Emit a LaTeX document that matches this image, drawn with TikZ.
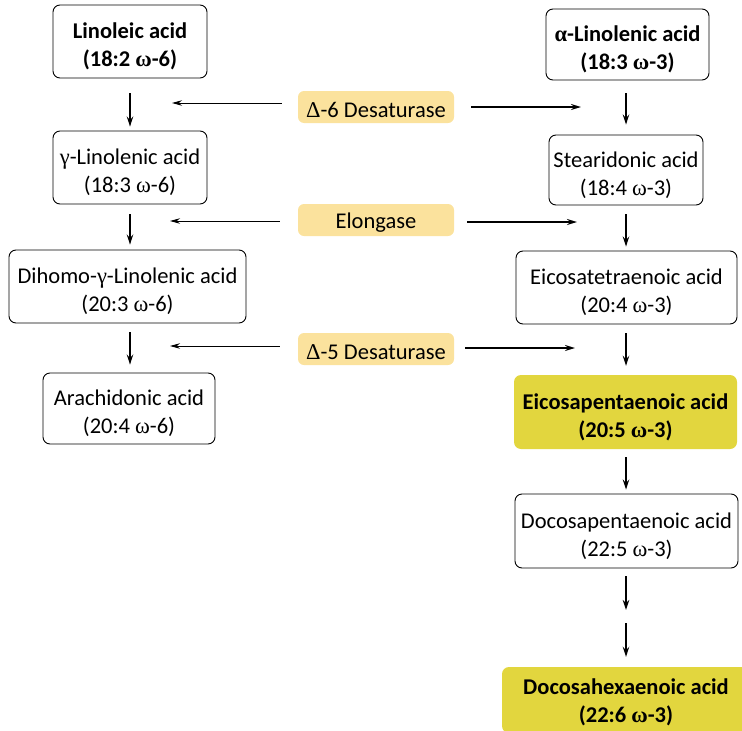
\documentclass[tikz,border=0pt]{standalone}
\usepackage{fontspec}
\setmainfont{Carlito}
\newfontfamily\grfont{Liberation Serif}
\usetikzlibrary{arrows.meta}
\newcommand{\gom}{{\grfont ω}}
\newcommand{\ggam}{{\grfont γ}}
\newcommand{\galp}{{\grfont α}}
\newcommand{\gDel}{{\grfont Δ}}
\newcommand{\acidstrut}{\rule{0pt}{26pt}}
\newcommand{\lowstrut}{\rule{0pt}{20pt}}
\newcommand{\enzstrut}{\rule{0pt}{21.5pt}}
\definecolor{enzfill}{RGB}{251,226,157}
\definecolor{keyfill}{RGB}{226,214,62}
\begin{document}
\begin{tikzpicture}[x=1pt,y=-1pt,
  acid/.style={draw=black, line width=0.9pt, rounded corners=7pt, align=center,
    inner sep=0pt, font=\fontsize{22.5}{28}\selectfont},
  keyacid/.style={fill=keyfill, rounded corners=7pt, align=center,
    inner sep=0pt, font=\fontsize{22.5}{28}\selectfont\bfseries},
  enz/.style={fill=enzfill, rounded corners=6pt, align=center, inner sep=0pt,
    minimum width=156pt, minimum height=32pt, font=\fontsize{22.5}{26}\selectfont},
  varr/.style={line width=1.5pt, -{Stealth[length=10pt,width=6.5pt]}},
  rarr/.style={line width=1.6pt, -{Stealth[length=10pt,width=6pt]}},
  larr/.style={line width=0.8pt, -{Stealth[length=10pt,width=5.5pt]}}]
\useasboundingbox (0,0) rectangle (742,731);

% omega-6 column
\node[acid, minimum width=154pt, minimum height=73pt, font=\fontsize{22.5}{28}\selectfont\bfseries] (lin) at (130,41.5) {\acidstrut Linoleic acid\\(18:2 \gom-6)};
\node[acid, minimum width=154pt, minimum height=73pt] (gla) at (130,167.5) {\acidstrut\ggam-Linolenic acid\\(18:3 \gom-6)};
\node[acid, minimum width=237pt, minimum height=73pt] (dgla) at (127.5,286.5) {\acidstrut Dihomo-\ggam-Linolenic acid\\(20:3 \gom-6)};
\node[acid, minimum width=172pt, minimum height=71pt] (ara) at (129,408.5) {\acidstrut Arachidonic acid\\(20:4 \gom-6)};

% omega-3 column
\node[acid, minimum width=163pt, minimum height=71pt, font=\fontsize{22.5}{28}\selectfont\bfseries] (ala) at (627.5,44.5) {\acidstrut\galp-Linolenic acid\\(18:3 \gom-3)};
\node[acid, minimum width=154pt, minimum height=70pt] (sda) at (626,170) {\acidstrut Stearidonic acid\\(18:4 \gom-3)};
\node[acid, minimum width=221pt, minimum height=73pt] (eta) at (626.5,287.5) {\acidstrut Eicosatetraenoic acid\\(20:4 \gom-3)};
\node[keyacid, minimum width=223pt, minimum height=74pt] (epa) at (625.5,412) {\acidstrut Eicosapentaenoic acid\\(20:5 \gom-3)};
\node[acid, minimum width=223pt, minimum height=74pt] (dpa) at (626.5,531) {\acidstrut Docosapentaenoic acid\\(22:5 \gom-3)};
\node[keyacid, minimum width=248pt, minimum height=66pt] (dha) at (626,700) {\lowstrut Docosahexaenoic acid\\(22:6 \gom-3)};
\coordinate (mid) at (626,616.5);

% enzymes
\node[enz] (e1) at (376,107) {\enzstrut\gDel-6 Desaturase};
\node[enz] (e2) at (376,220) {\enzstrut Elongase};
\node[enz] (e3) at (376,349) {\enzstrut\gDel-5 Desaturase};

% vertical arrows, omega-6
\draw[varr, shorten <=15pt, shorten >=4pt] (lin) -- (gla);
\draw[varr, shorten <=10pt, shorten >=5pt] (gla) -- (gla |- dgla.north);
\draw[varr, shorten <=9pt, shorten >=8pt] (gla |- dgla.south) -- (gla |- ara.north);

% vertical arrows, omega-3
\draw[varr, shorten <=13pt, shorten >=10pt] (sda |- ala.south) -- (sda);
\draw[varr, shorten <=9pt, shorten >=4pt] (sda) -- (sda |- eta.north);
\draw[varr, shorten <=9pt, shorten >=9pt] (sda |- eta.south) -- (sda |- epa.north);
\draw[varr, shorten <=8pt, shorten >=4pt] (sda |- epa.south) -- (sda |- dpa.north);
\draw[varr, shorten <=8pt, shorten >=6.5pt] (sda |- dpa.south) -- (mid);
\draw[varr, shorten <=6.5pt, shorten >=10pt] (mid) -- (sda |- dha.north);

% enzyme arrows
\coordinate (l1) at (172,103);
\coordinate (r1) at (581,107);
\coordinate (l2) at (170,221);
\coordinate (r2) at (577,222);
\coordinate (l3) at (170,346);
\coordinate (r3) at (575,348);
\draw[larr, shorten <=16pt] (e1.west |- l1) -- (l1);
\draw[rarr, shorten <=17pt] (e1.east |- r1) -- (r1);
\draw[larr, shorten <=18pt] (e2.west |- l2) -- (l2);
\draw[rarr, shorten <=13pt] (e2.east |- r2) -- (r2);
\draw[larr, shorten <=18pt] (e3.west |- l3) -- (l3);
\draw[rarr, shorten <=11pt] (e3.east |- r3) -- (r3);
\end{tikzpicture}
\end{document}
